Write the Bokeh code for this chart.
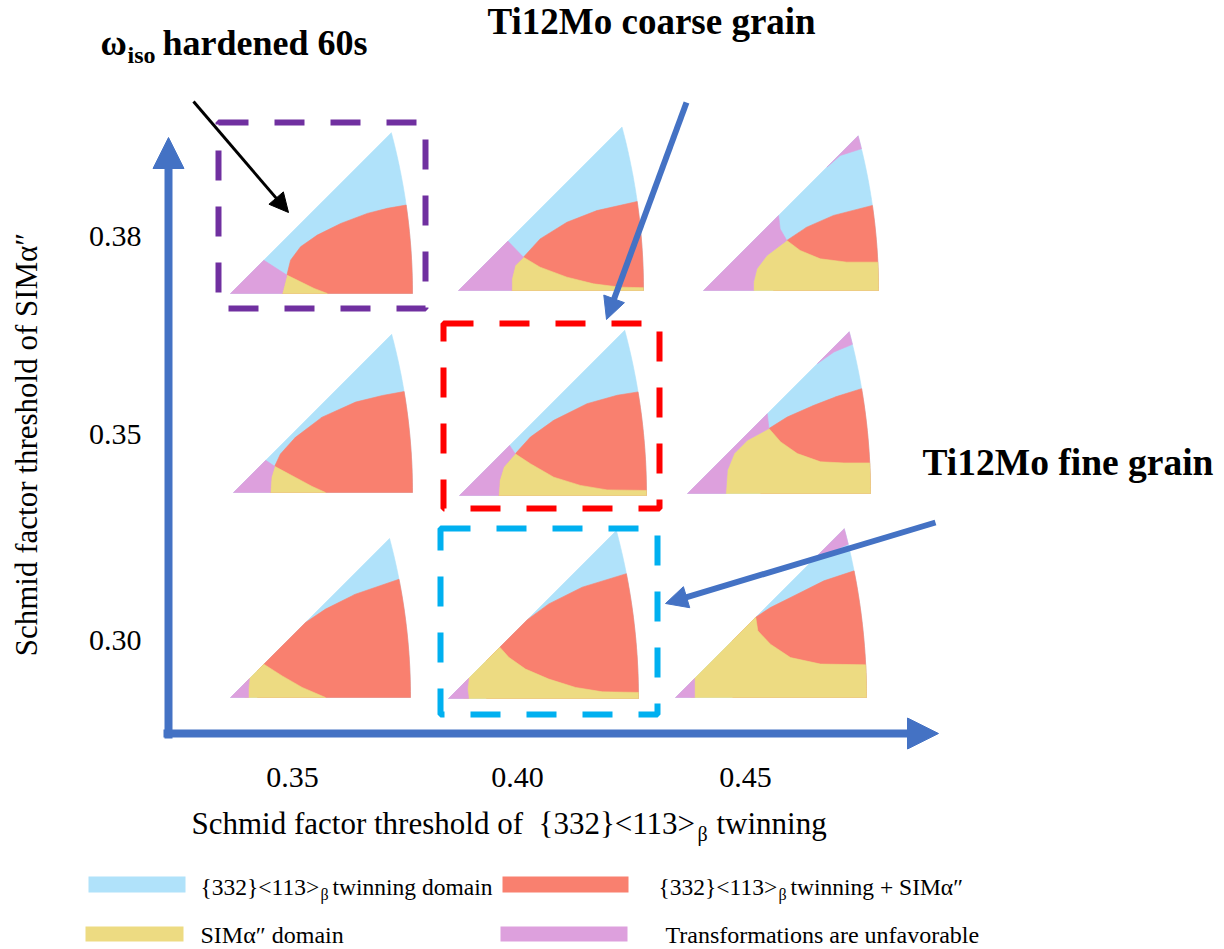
import math
from bokeh.plotting import figure
from bokeh.models import Range1d, Arrow, NormalHead, ColumnDataSource
from bokeh.core.properties import value
from bokeh.embed import file_html
from bokeh.resources import INLINE

# ------------------------------------------------------------------ data
twinning_thresholds = [0.35, 0.40, 0.45]      # x categories
sim_thresholds = [0.38, 0.35, 0.30]           # y categories (top -> bottom)
x_tick_labels = ["0.35", "0.40", "0.45"]
y_tick_labels = ["0.38", "0.35", "0.30"]

domain_keys = ["twin", "twin_sim", "sim", "none"]
domain_colors = {"twin": "#B0E2FA", "twin_sim": "#F9806F",
                 "sim": "#EDDB82", "none": "#DDA0DD"}

# Domain boundaries of each inverse-pole-figure map, in normalised
# stereographic-triangle coordinates (u, v): [001]=(0,0), [101]=(1,0).
# ("a", v) marks a point on the [101]-[111] great-circle arc at height v.
maps = {
    (0.35, 0.38): [
        ("twin_sim", [(0.284, 0), (0.310, 0.101), (0.330, 0.183), (0.385, 0.257), (0.477, 0.321),
                      (0.606, 0.385), (0.752, 0.440), (0.862, 0.468), ("a", 0.486), ("a", 0)]),
        ("sim", [(0.284, 0), (0.310, 0.101), (0.385, 0.064), (0.459, 0.028), (0.532, 0)]),
        ("none", [(0, 0), (0.183, 0.183), (0.310, 0.101), (0.284, 0)]),
    ],
    (0.40, 0.38): [
        ("twin_sim", [(0.288, 0), (0.288, 0.063), (0.306, 0.135), (0.351, 0.180), (0.441, 0.279),
                      (0.586, 0.369), (0.748, 0.432), ("a", 0.481), ("a", 0)]),
        ("sim", [(0.288, 0), (0.288, 0.063), (0.306, 0.135), (0.351, 0.180), (0.441, 0.126),
                 (0.586, 0.072), (0.730, 0.036), (0.874, 0.018), ("a", 0.015), ("a", 0)]),
        ("none", [(0, 0), (0.267, 0.267), (0.351, 0.180), (0.306, 0.135), (0.288, 0.063), (0.288, 0)]),
    ],
    (0.45, 0.38): [
        ("twin_sim", [(0.40, 0), (0.476, 0.286), (0.590, 0.362), (0.743, 0.429), ("a", 0.486), ("a", 0)]),
        ("sim", [(0.286, 0), (0.286, 0.048), (0.305, 0.124), (0.362, 0.200), (0.476, 0.286),
                 (0.552, 0.229), (0.667, 0.181), (0.819, 0.162), ("a", 0.162), ("a", 0)]),
        ("none", [(0, 0), (0.429, 0.429), (0.438, 0.352), (0.476, 0.286), (0.362, 0.200),
                  (0.305, 0.124), (0.286, 0.048), (0.286, 0)]),
        ("none", [(0.705, 0.705), (0.781, 0.771), ("a", 0.810), ("a", 0.884)]),
    ],
    (0.35, 0.35): [
        ("twin_sim", [(0.206, 0), (0.211, 0.084), (0.230, 0.146), (0.262, 0.215), (0.346, 0.308),
                      (0.495, 0.421), (0.682, 0.505), (0.832, 0.542), ("a", 0.564), ("a", 0)]),
        ("sim", [(0.206, 0), (0.211, 0.084), (0.230, 0.146), (0.346, 0.084), (0.439, 0.034), (0.514, 0)]),
        ("none", [(0, 0), (0.180, 0.180), (0.230, 0.146), (0.211, 0.084), (0.206, 0)]),
    ],
    (0.40, 0.35): [
        ("twin_sim", [(0.209, 0), (0.214, 0.080), (0.236, 0.152), (0.298, 0.223), (0.379, 0.3125),
                      (0.504, 0.402), (0.682, 0.491), (0.843, 0.536), ("a", 0.554), ("a", 0)]),
        ("sim", [(0.209, 0), (0.214, 0.080), (0.236, 0.152), (0.298, 0.223), (0.379, 0.170),
                 (0.504, 0.098), (0.646, 0.054), (0.789, 0.030), ("a", 0.027), ("a", 0)]),
        ("none", [(0, 0), (0.268, 0.268), (0.298, 0.223), (0.236, 0.152), (0.214, 0.080), (0.209, 0)]),
    ],
    (0.45, 0.35): [
        ("twin_sim", [(0.40, 0), (0.445, 0.355), (0.545, 0.418), (0.691, 0.482), (0.818, 0.531),
                      ("a", 0.573), ("a", 0)]),
        ("sim", [(0.209, 0), (0.218, 0.127), (0.255, 0.218), (0.327, 0.291), (0.445, 0.355),
                 (0.509, 0.282), (0.600, 0.218), (0.727, 0.173), (0.855, 0.167), ("a", 0.167), ("a", 0)]),
        ("none", [(0, 0), (0.436, 0.436), (0.445, 0.355), (0.327, 0.291), (0.255, 0.218),
                  (0.218, 0.127), (0.209, 0)]),
        ("none", [(0.710, 0.710), (0.800, 0.773), ("a", 0.815), ("a", 0.884)]),
    ],
    (0.35, 0.30): [
        ("twin_sim", [(0.15, 0), (0.15, 0.15), (0.417, 0.417), (0.528, 0.491), (0.694, 0.574),
                      ("a", 0.657), ("a", 0)]),
        ("sim", [(0.08, 0), (0.08, 0.08), (0.185, 0.185), (0.287, 0.120), (0.398, 0.056), (0.528, 0)]),
        ("none", [(0, 0), (0.105, 0.105), (0.100, 0.05), (0.100, 0)]),
    ],
    (0.40, 0.30): [
        ("twin_sim", [(0.2, 0), (0.2, 0.2), (0.415, 0.415), (0.528, 0.498), (0.704, 0.586),
                      ("a", 0.657), ("a", 0)]),
        ("sim", [(0.08, 0), (0.08, 0.08), (0.27, 0.27), (0.317, 0.217), (0.405, 0.155), (0.528, 0.102),
                 (0.669, 0.058), (0.81, 0.035), ("a", 0.032), ("a", 0)]),
        ("none", [(0, 0), (0.106, 0.106), (0.100, 0.05), (0.106, 0)]),
    ],
    (0.45, 0.30): [
        ("twin_sim", [(0.3, 0), (0.3, 0.3), (0.42, 0.42), (0.497, 0.471), (0.637, 0.541), (0.777, 0.611),
                      ("a", 0.663), ("a", 0)]),
        ("sim", [(0.08, 0), (0.08, 0.08), (0.42, 0.42), (0.431, 0.349), (0.497, 0.279), (0.602, 0.209),
                 (0.759, 0.175), ("a", 0.171), ("a", 0)]),
        ("none", [(0, 0), (0.1, 0.1), (0.1, 0)]),
        ("none", [(0.72, 0.72), ("a", 0.803), ("a", 0.884)]),
    ],
}

legend_entries = [("twin", ["{332}<113>", "β", "twinning domain"]),
                  ("twin_sim", ["{332}<113>", "β", "twinning + SIMα″"]),
                  ("sim", ["SIMα″ domain"]),
                  ("none", ["Transformations are unfavorable"])]

# ------------------------------------------------------------------ layout
W_PX, H_PX = 1224, 949
# map placement: origin corner x, y and width of [001]-[101] edge (page pixels)
map_place = {
    (0.35, 0.38): (230, 293, 182), (0.40, 0.38): (458, 290, 185), (0.45, 0.38): (703, 290, 175),
    (0.35, 0.35): (233, 492, 179), (0.40, 0.35): (459, 495, 187), (0.45, 0.35): (687, 493, 183),
    (0.35, 0.30): (230, 697, 180), (0.40, 0.30): (448, 698, 190), (0.45, 0.30): (675, 697, 191),
}
col_x = [292, 517, 745]
row_y = [246, 444, 650]

K = 1.0 / math.tan(math.radians(22.5))
RAD = math.sqrt(2.0) * K
APEX = (math.sqrt(3.0) - 1.0) / 2.0 * K


def arc_u(v):
    return -K + math.sqrt(RAD * RAD - v * v)


def expand(verts, n=20):
    pts = []
    m = len(verts)
    for i in range(m):
        a = verts[i]
        b = verts[(i + 1) % m]
        if a[0] == "a":
            pts.append((arc_u(a[1]), a[1]))
            if b[0] == "a":
                for k in range(1, n):
                    v = a[1] + (b[1] - a[1]) * k / n
                    pts.append((arc_u(v), v))
        else:
            pts.append((float(a[0]), float(a[1])))
    return pts


p = figure(width=W_PX, height=H_PX, x_range=Range1d(0, W_PX), y_range=Range1d(H_PX, 0),
           output_backend="svg", toolbar_location=None, x_axis_location=None, y_axis_location=None,
           min_border=0, min_border_left=0, min_border_right=0, min_border_top=0, min_border_bottom=0)
p.grid.visible = False
p.outline_line_color = None
p.background_fill_color = "white"

xs, ys, cs = [], [], []
triangle = [(0, 0), ("a", 0), ("a", APEX)]
for key, regions in maps.items():
    ox, oy, w = map_place[key]
    for dom, verts in [("twin", triangle)] + regions:
        pts = expand(verts)
        xs.append([ox + u * w for u, v in pts])
        ys.append([oy - v * w for u, v in pts])
        cs.append(domain_colors[dom])
p.patches(xs="xs", ys="ys", fill_color="c", line_color="c", line_width=0.6,
          source=ColumnDataSource(dict(xs=xs, ys=ys, c=cs)))

# dashed highlight boxes
p.quad(left=[218], right=[425], top=[122], bottom=[308], fill_alpha=0,
       line_color="#7030A0", line_width=6, line_dash="30 26")
p.quad(left=[443], right=[659], top=[323], bottom=[508], fill_alpha=0,
       line_color="#FF0000", line_width=6, line_dash="30 26")
p.quad(left=[440], right=[657], top=[528], bottom=[714], fill_alpha=0,
       line_color="#00B0F0", line_width=6, line_dash="30 26")


def arrow(x0, y0, x1, y1, color, lw, head):
    L = math.hypot(x1 - x0, y1 - y0)
    ux, uy = (x1 - x0) / L, (y1 - y0) / L
    sx, sy = x1 - ux * head * 0.7, y1 - uy * head * 0.7
    p.segment(x0=[x0], y0=[y0], x1=[sx], y1=[sy], line_color=color, line_width=lw)
    p.add_layout(Arrow(end=NormalHead(size=head, fill_color=color, line_color=color, line_width=1),
                       x_start=x1 - ux * 2, y_start=y1 - uy * 2, x_end=x1, y_end=y1, line_alpha=0))


BLUE = "#4472C4"
arrow(168, 738, 168, 137, BLUE, 8, 31)
arrow(163, 733, 938, 733, BLUE, 8, 31)
arrow(686, 102, 606, 319, BLUE, 6, 22)
arrow(935, 522, 665, 603, BLUE, 6, 22)
arrow(193, 101, 288, 212, "black", 3, 19)

SERIF = value("Liberation Serif")
BASE_SHIFT = 0.33   # compensates the svg text baseline offset (fraction of font size)


def put(x, y, s, size, bold=False, align="left", angle=0.0, color="black"):
    off = BASE_SHIFT * size
    xd = x - off * math.sin(angle)
    yd = y - off * math.cos(angle)
    p.text(x=[xd], y=[yd], text=[s], text_font=SERIF, text_font_size=f"{size}px",
           text_font_style="bold" if bold else "normal", text_align=align,
           text_baseline="alphabetic", angle=angle, text_color=color)


# titles / annotations
put(100, 54, "ω", 36, bold=True)
put(127, 62, "iso", 24, bold=True)
put(162, 54, "hardened 60s", 36, bold=True)
put(487, 33, "Ti12Mo coarse grain", 37, bold=True)
put(922, 474, "Ti12Mo fine grain", 37.5, bold=True)

# tick labels
for x, lab in zip(col_x, x_tick_labels):
    put(x, 787, lab, 30, align="center")
for y, lab in zip(row_y, y_tick_labels):
    put(141, y, lab, 30, align="right")

# axis titles
put(36, 444, "Schmid factor threshold of SIMα″", 31, align="center", angle=math.pi / 2)
put(191, 833, "Schmid factor threshold of", 31)
put(538, 833, "{332}<113>", 31)
put(697, 840, "β", 20)
put(716, 833, "twinning", 31)

# legend
sw = [(88, 185, 876, 892), (502, 628, 876, 892), (85, 183, 926, 941), (500, 627, 926, 941)]
tx = [(200, 894), (658, 894), (200, 942), (665, 942)]
for (dom, parts), (l, r, t, b), (x0, yb) in zip(legend_entries, sw, tx):
    p.quad(left=[l], right=[r], top=[t], bottom=[b], fill_color=domain_colors[dom], line_color=None)
    if len(parts) == 3:
        put(x0, yb, parts[0], 23.5)
        put(x0 + 120, yb + 5, parts[1], 16)
        put(x0 + 132, yb, parts[2], 23.5)
    else:
        put(x0, yb, parts[0], 24)

open("out.html", "w").write(file_html(p, INLINE))
